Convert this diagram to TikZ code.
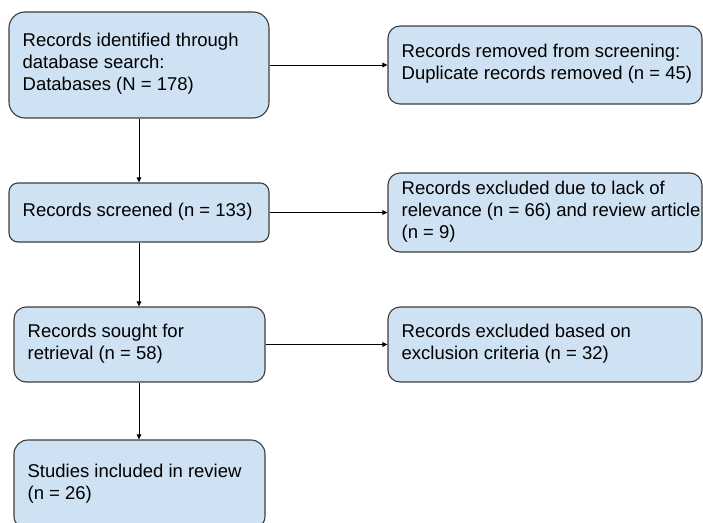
\documentclass[tikz,border=0pt]{standalone}
\usepackage{fontspec}
\setmainfont{Liberation Sans}
\usetikzlibrary{arrows.meta}
\definecolor{boxfill}{HTML}{CFE2F3}
\definecolor{boxline}{HTML}{3C3C3C}
\tikzset{
  box/.style={draw=boxline, fill=boxfill, line width=1.1pt, inner sep=0pt, rectangle},
  txt/.style={anchor=west, align=left, inner sep=0pt, font=\fontsize{18.5}{22}\selectfont},
  conn/.style={line width=1pt, -{Triangle[length=5pt,width=4.5pt]}}
}
\begin{document}
\begin{tikzpicture}[x=1pt,y=-1pt]
\useasboundingbox (0,0) rectangle (703,522);
\node[box, rounded corners=16pt, minimum width=260pt, minimum height=106pt] (b1) at (139,65) {};
\node[box, rounded corners=12pt, minimum width=314pt, minimum height=78pt] (b2) at (545,65) {};
\node[box, rounded corners=9pt, minimum width=260pt, minimum height=59pt] (b3) at (139,212.5) {};
\node[box, rounded corners=12pt, minimum width=314pt, minimum height=79pt] (b4) at (545,212.5) {};
\node[box, rounded corners=12pt, minimum width=251pt, minimum height=75pt] (b5) at (139.5,344.5) {};
\node[box, rounded corners=12pt, minimum width=314pt, minimum height=75pt] (b6) at (545,344.5) {};
\node[box, rounded corners=14pt, minimum width=251pt, minimum height=90pt] (b7) at (139.5,485) {};

\node[txt] (t1) at ([xshift=14pt,yshift=1pt]b1.west) {Records identified through\\database search:\\Databases (N = 178)};
\node[txt] (t2) at ([xshift=14pt,yshift=1pt]b2.west) {Records removed from screening:\\Duplicate records removed (n = 45)};
\node[txt] (t3) at ([xshift=14pt,yshift=1pt]b3.west) {Records screened (n = 133)};
\node[txt] (t4) at ([xshift=14pt,yshift=1pt]b4.west) {Records excluded due to lack of\\relevance (n = 66) and review article\\(n = 9)};
\node[txt] (t5) at ([xshift=14pt,yshift=1pt]b5.west) {Records sought for\\retrieval (n = 58)};
\node[txt] (t6) at ([xshift=14pt,yshift=1pt]b6.west) {Records excluded based on\\exclusion criteria (n = 32)};
\node[txt] (t7) at ([xshift=14pt,yshift=1pt]b7.west) {Studies included in review\\(n = 26)};

\draw[conn] (b1.east) -- (b2.west);
\draw[conn] (b3.east) -- (b4.west);
\draw[conn] (b5.east) -- (b6.west);
\draw[conn] (b1.south) -- (b3.north);
\draw[conn] (b3.south) -- (b3.south |- b5.north);
\draw[conn] (b3.south |- b5.south) -- (b3.south |- b7.north);
\end{tikzpicture}
\end{document}
